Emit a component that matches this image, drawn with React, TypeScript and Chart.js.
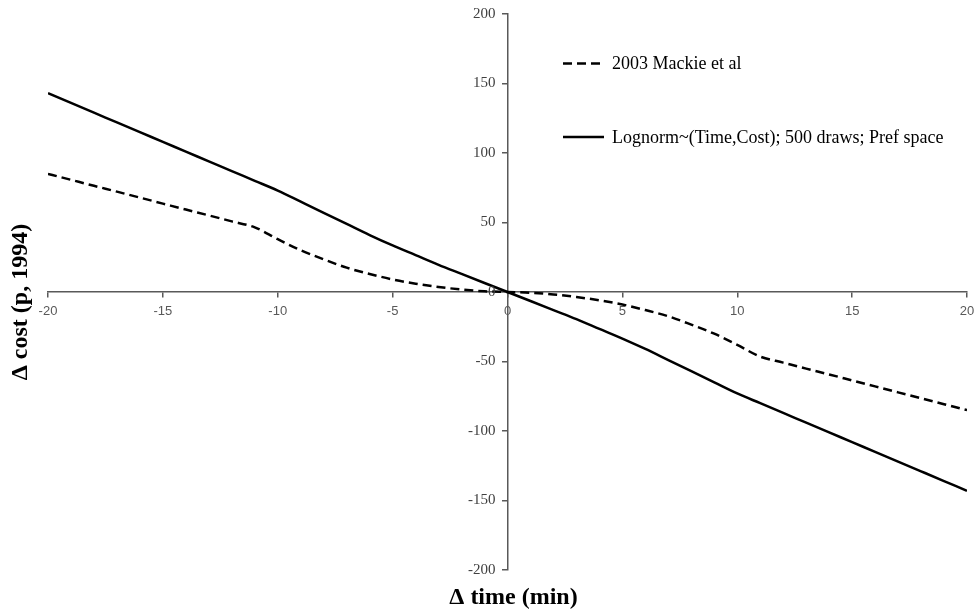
import React, { useEffect, useRef } from "react";
import { Chart, registerables } from "chart.js";

Chart.register(...registerables);

const timeMin = [
  -20, -19, -18, -17, -16, -15, -14, -13, -12, -11, -10, -9, -8, -7, -6, -5, -4, -3, -2, -1,
  0, 1, 2, 3, 4, 5, 6, 7, 8, 9, 10, 11, 12, 13, 14, 15, 16, 17, 18, 19, 20,
];

const mackieCost = [
  85, 80.7, 76.4, 72.2, 67.9, 63.6, 59.3, 55.1, 50.8, 46.5, 38, 30, 23.5, 17.5, 13, 9, 6, 3.6, 1.8, 0.5,
  0, -0.5, -1.8, -3.6, -6, -9, -13, -17.5, -23.5, -30, -38, -46.5, -50.8, -55.1, -59.3, -63.6, -67.9, -72.2, -76.4, -80.7, -85,
];

const lognormCost = [
  143, 136, 129, 122, 115, 108, 101, 94, 87, 80, 73, 65, 57, 49, 41, 33.5, 26.5, 19.5, 13, 6.5,
  0, -6.5, -13, -19.5, -26.5, -33.5, -41, -49, -57, -65, -73, -80, -87, -94, -101, -108, -115, -122, -129, -136, -143,
];

const seriesNames = ["2003 Mackie et al", "Lognorm~(Time,Cost); 500 draws; Pref space"];
const xTitle = "\u0394 time (min)";
const yTitle = "\u0394 cost (p, 1994)";
const xRange = [-20, 20];
const yRange = [-200, 200];
const xStep = 5;
const yStep = 50;

const SERIF = '"Liberation Serif", "Times New Roman", serif';
const SANS = '"Liberation Sans", Arial, sans-serif';
const DASH = [9, 5];

const overlayPlugin = {
  id: "overlay",
  afterDraw(chart: any) {
    const ctx = chart.ctx as CanvasRenderingContext2D;
    const { top, bottom } = chart.chartArea;
    const xZero = chart.scales.x.getPixelForValue(0);
    const yScale = chart.scales.y;
    ctx.save();

    // y tick labels, left of the centred axis
    ctx.fillStyle = "#404040";
    ctx.font = `15px ${SERIF}`;
    ctx.textAlign = "right";
    ctx.textBaseline = "middle";
    for (const t of yScale.ticks) {
      ctx.fillText(String(t.value), xZero - 12, yScale.getPixelForValue(t.value));
    }

    // axis titles
    ctx.fillStyle = "#000";
    ctx.font = `bold 24px ${SERIF}`;
    ctx.textAlign = "center";
    ctx.textBaseline = "middle";
    ctx.fillText(xTitle, xZero + 6, bottom + 28);
    ctx.save();
    ctx.translate(21, (top + bottom) / 2 + 10);
    ctx.rotate(-Math.PI / 2);
    ctx.fillText(yTitle, 0, 0);
    ctx.restore();

    // legend
    const rows = [
      { y: 63.5, dash: DASH, label: seriesNames[0] },
      { y: 137, dash: [] as number[], label: seriesNames[1] },
    ];
    ctx.font = `18px ${SERIF}`;
    ctx.textAlign = "left";
    ctx.strokeStyle = "#000";
    ctx.lineWidth = 2.5;
    for (const r of rows) {
      ctx.setLineDash(r.dash);
      ctx.beginPath();
      ctx.moveTo(563, r.y);
      ctx.lineTo(604, r.y);
      ctx.stroke();
      ctx.setLineDash([]);
      ctx.fillText(r.label, 612, r.y + 1);
    }
    ctx.restore();
  },
};

export default function App() {
  const ref = useRef<HTMLCanvasElement | null>(null);

  useEffect(() => {
    if (!ref.current) return;
    const chart = new Chart(ref.current, {
      type: "line",
      data: {
        datasets: [
          {
            label: seriesNames[1],
            data: timeMin.map((x, i) => ({ x, y: lognormCost[i] })),
            borderColor: "#000",
            borderWidth: 2.5,
            pointRadius: 0,
            cubicInterpolationMode: "monotone",
            fill: false,
          },
          {
            label: seriesNames[0],
            data: timeMin.map((x, i) => ({ x, y: mackieCost[i] })),
            borderColor: "#000",
            borderWidth: 2.5,
            borderDash: DASH,
            pointRadius: 0,
            cubicInterpolationMode: "monotone",
            fill: false,
          },
        ],
      },
      options: {
        animation: false,
        responsive: false,
        maintainAspectRatio: false,
        layout: { padding: { left: 48, right: 10, top: 14, bottom: 44 } },
        plugins: { legend: { display: false }, tooltip: { enabled: false } },
        scales: {
          x: {
            type: "linear",
            min: xRange[0],
            max: xRange[1],
            position: { y: 0 } as any,
            afterFit: (s: any) => {
              s.height = 0;
              s.paddingLeft = 0;
              s.paddingRight = 0;
              s.paddingTop = 0;
              s.paddingBottom = 0;
            },
            grid: { drawOnChartArea: false, drawTicks: true, tickLength: 5, color: "#595959", lineWidth: 1.5 },
            border: { color: "#595959", width: 1.5 },
            ticks: {
              stepSize: xStep,
              padding: 7,
              maxRotation: 0,
              color: "#595959",
              font: { family: SANS, size: 13 },
            },
          },
          y: {
            type: "linear",
            min: yRange[0],
            max: yRange[1],
            position: { x: 0 } as any,
            afterFit: (s: any) => {
              s.width = 0;
              s.paddingLeft = 0;
              s.paddingRight = 0;
              s.paddingTop = 0;
              s.paddingBottom = 0;
            },
            grid: { drawOnChartArea: false, drawTicks: true, tickLength: 5, color: "#595959", lineWidth: 1.5 },
            border: { color: "#595959", width: 1.5 },
            ticks: {
              stepSize: yStep,
              display: false,
            },
          },
        },
      },
      plugins: [overlayPlugin],
    });
    return () => chart.destroy();
  }, []);

  return (
    <div style={{ position: "absolute", left: 0, top: 0, width: 977, height: 614, background: "#fff" }}>
      <canvas ref={ref} width={977} height={614} style={{ width: 977, height: 614, display: "block" }} />
    </div>
  );
}
